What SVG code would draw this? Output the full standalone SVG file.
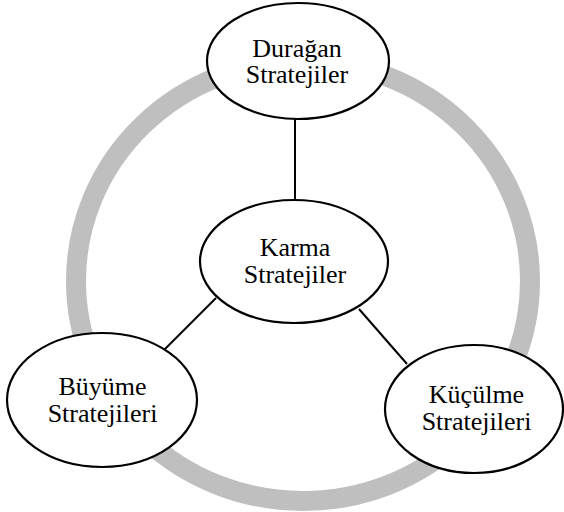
<svg xmlns="http://www.w3.org/2000/svg" width="564" height="512" viewBox="0 0 564 512">
<style>
.ring{fill:none;stroke:#bfbfbf;stroke-width:20}
.node{fill:#ffffff;stroke:#000000;stroke-width:2.2}
.edge{stroke:#000000;stroke-width:2;fill:none}
.lbl{font-family:'Liberation Serif',serif;font-size:26px;fill:#000000;text-anchor:middle}
</style>
<rect width="564" height="512" fill="#ffffff"/>
<ellipse class="ring" cx="303" cy="281" rx="227" ry="220"/>
<g id="connectors">
<line class="edge" x1="295" y1="119" x2="295" y2="202"/>
<line class="edge" x1="216" y1="298" x2="163" y2="351"/>
<line class="edge" x1="359" y1="309" x2="407" y2="364"/>
</g>
<g id="duragan">
<ellipse class="node" cx="298" cy="61" rx="91" ry="58"/>
<text class="lbl" font-family="Liberation Serif, serif" x="297" y="57">Durağan</text>
<text class="lbl" font-family="Liberation Serif, serif" x="297" y="83">Stratejiler</text>
</g>
<g id="karma">
<ellipse class="node" cx="294" cy="261.5" rx="94" ry="61.5"/>
<text class="lbl" font-family="Liberation Serif, serif" x="295" y="256">Karma</text>
<text class="lbl" font-family="Liberation Serif, serif" x="295" y="283">Stratejiler</text>
</g>
<g id="buyume">
<ellipse class="node" cx="102" cy="400" rx="95" ry="67"/>
<text class="lbl" font-family="Liberation Serif, serif" x="102.5" y="395">Büyüme</text>
<text class="lbl" font-family="Liberation Serif, serif" x="102.5" y="422">Stratejileri</text>
</g>
<g id="kuculme">
<ellipse class="node" cx="474" cy="409" rx="89" ry="64"/>
<text class="lbl" font-family="Liberation Serif, serif" x="476.5" y="403">Küçülme</text>
<text class="lbl" font-family="Liberation Serif, serif" x="476.5" y="430">Stratejileri</text>
</g>
</svg>
